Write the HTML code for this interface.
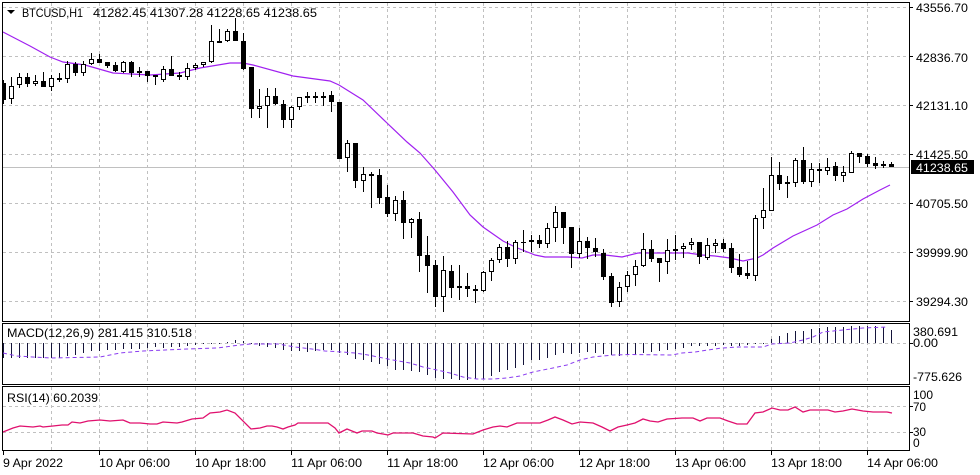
<!DOCTYPE html>
<html><head><meta charset="utf-8"><style>
html,body{margin:0;padding:0;background:#fff;}
svg{display:block;}
text{font-family:"Liberation Sans",Arial,sans-serif;font-size:12px;fill:#000;}
</style></head><body>
<svg width="980" height="475" viewBox="0 0 980 475" xmlns="http://www.w3.org/2000/svg">
<rect x="0" y="0" width="980" height="475" fill="#fff"/>
<!-- grid -->
<g stroke="#c0c0c0" stroke-width="1" stroke-dasharray="3 3" shape-rendering="crispEdges" fill="none">
<path d="M3 7.5H909M3 56.5H909M3 105.5H909M3 154.5H909M3 203.5H909M3 252.5H909M3 301.5H909"/>
<path d="M3 343.5H909M3 406.5H909M3 432.5H909"/>
<path d="M51.5 3V321M99.5 3V321M147.5 3V321M195.5 3V321M243.5 3V321M291.5 3V321M339.5 3V321M387.5 3V321M435.5 3V321M483.5 3V321M531.5 3V321M579.5 3V321M627.5 3V321M675.5 3V321M723.5 3V321M771.5 3V321M819.5 3V321M867.5 3V321"/>
<path d="M51.5 324V384M99.5 324V384M147.5 324V384M195.5 324V384M243.5 324V384M291.5 324V384M339.5 324V384M387.5 324V384M435.5 324V384M483.5 324V384M531.5 324V384M579.5 324V384M627.5 324V384M675.5 324V384M723.5 324V384M771.5 324V384M819.5 324V384M867.5 324V384"/>
<path d="M51.5 387V450M99.5 387V450M147.5 387V450M195.5 387V450M243.5 387V450M291.5 387V450M339.5 387V450M387.5 387V450M435.5 387V450M483.5 387V450M531.5 387V450M579.5 387V450M627.5 387V450M675.5 387V450M723.5 387V450M771.5 387V450M819.5 387V450M867.5 387V450"/>
</g>
<!-- current price line -->
<path d="M3 167.5H909" stroke="#c0c0c0" stroke-width="1" shape-rendering="crispEdges"/>
<!-- MA -->
<polyline fill="none" stroke="#a020f0" stroke-width="1.2" points="3,32 30,46 50,57 63,62 85,65 113,73 150,75 180,73 200,68 230,63 243,63 253,65 293,76 330,81 339,85 363,100 387,123 407,142 420,153 435,170 453,192 470,215 483,227 493,234 503,241 515,247 535,255 545,257 568,257 582,258 593,255 605,255 622,257 638,253 665,253 688,253 702,255 715,256 730,258 743,261 757,258 763,255 773,248 793,236 817,225 833,215 847,209 863,199 880,190 890,185"/>
<!-- wicks -->
<path stroke="#000" stroke-width="1" fill="none" shape-rendering="crispEdges" d="M3.5 80V104M11.5 77V104M19.5 73V88M27.5 73V87M35.5 75V86M43.5 72V87M51.5 75V91M59.5 73V82M67.5 61V83M75.5 62V76M83.5 61V76M91.5 53V65M99.5 54V63M107.5 62V68M115.5 62V72M123.5 61V73M131.5 61V77M139.5 67V77M147.5 71V82M155.5 75V85M163.5 66V82M171.5 56V76M179.5 72V80M187.5 63V80M195.5 63V70M203.5 62V67M211.5 25V63M219.5 29V43M227.5 29V42M235.5 18V41M243.5 33V70M251.5 67V118M259.5 89V118M267.5 88V128M275.5 88V105M283.5 100V128M291.5 106V128M299.5 97V110M307.5 92V103M315.5 92V103M323.5 92V106M331.5 91V112M339.5 102V159M347.5 140V172M355.5 143V188M363.5 167V192M371.5 172V208M379.5 169V204M387.5 185V217M395.5 196V221M403.5 191V239M411.5 218V238M419.5 212V272M427.5 236V293M435.5 260V307M443.5 256V312M451.5 265V298M459.5 265V300M467.5 273V297M475.5 285V303M483.5 271V292M491.5 258V281M499.5 244V263M507.5 241V267M515.5 240V264M523.5 230V252M531.5 235V252M539.5 235V248M547.5 223V248M555.5 206V242M563.5 212V244M571.5 227V268M579.5 228V258M587.5 237V259M595.5 238V257M603.5 249V280M611.5 273V307M619.5 282V307M627.5 271V292M635.5 260V286M643.5 233V267M651.5 240V262M659.5 258V282M667.5 239V274M675.5 235V260M683.5 243V258M691.5 238V250M699.5 242V264M707.5 238V260M715.5 239V253M723.5 239V252M731.5 243V273M739.5 254V277M747.5 261V279M755.5 215V281M763.5 188V229M771.5 157V211M779.5 162V190M787.5 176V198M795.5 158V187M803.5 147V184M811.5 163V187M819.5 163V183M827.5 158V175M835.5 162V181M843.5 166V182M851.5 151V173M859.5 153V163M867.5 154V167M875.5 157V169M883.5 161V168M891.5 162V167"/>
<!-- black bodies -->
<path fill="#000" shape-rendering="crispEdges" d="M2 83h4v17h-4zM25 77h5v7h-5zM41 81h5v6h-5zM57 78h5v2h-5zM73 64h5v9h-5zM97 59h5v4h-5zM105 62h5v4h-5zM113 65h5v6h-5zM129 62h5v11h-5zM145 71h5v5h-5zM153 75h5v2h-5zM169 69h5v7h-5zM177 75h5v2h-5zM233 31h5v10h-5zM241 41h5v28h-5zM249 67h5v42h-5zM273 96h5v8h-5zM281 104h5v16h-5zM313 96h5v2h-5zM329 95h5v7h-5zM337 102h5v57h-5zM353 143h5v38h-5zM369 174h5v2h-5zM377 175h5v23h-5zM385 197h5v17h-5zM401 200h5v23h-5zM417 219h5v37h-5zM425 255h5v11h-5zM433 265h5v32h-5zM449 271h5v17h-5zM457 286h5v2h-5zM465 286h5v3h-5zM473 289h5v2h-5zM505 247h5v12h-5zM521 242h5v1h-5zM537 240h5v4h-5zM561 212h5v16h-5zM569 227h5v27h-5zM585 241h5v7h-5zM593 248h5v4h-5zM601 253h5v24h-5zM609 276h5v27h-5zM649 249h5v10h-5zM657 258h5v5h-5zM673 249h5v2h-5zM697 242h5v15h-5zM721 243h5v6h-5zM729 248h5v20h-5zM737 267h5v8h-5zM745 273h5v3h-5zM777 175h5v9h-5zM801 160h5v22h-5zM817 169h5v2h-5zM833 166h5v10h-5zM857 153h5v4h-5zM865 156h5v8h-5zM873 163h5v3h-5zM881 164h5v2h-5zM889 164h5v3h-5z"/>
<!-- white bodies -->
<path fill="#fff" stroke="#000" stroke-width="1" shape-rendering="crispEdges" d="M9.5 86.5h4v12h-4zM17.5 77.5h4v7h-4zM33.5 81.5h4v2h-4zM49.5 78.5h4v8h-4zM65.5 64.5h4v14h-4zM81.5 64.5h4v8h-4zM89.5 59.5h4v4h-4zM121.5 62.5h4v9h-4zM137.5 71.5h4v1h-4zM161.5 69.5h4v10h-4zM185.5 68.5h4v8h-4zM193.5 65.5h4v2h-4zM201.5 62.5h4v2h-4zM209.5 41.5h4v20h-4zM217.5 41.5h4v1h-4zM225.5 31.5h4v9h-4zM257.5 106.5h4v2h-4zM265.5 96.5h4v9h-4zM289.5 107.5h4v12h-4zM297.5 97.5h4v9h-4zM305.5 96.5h4v1h-4zM321.5 96.5h4v1h-4zM345.5 143.5h4v14h-4zM361.5 174.5h4v6h-4zM393.5 200.5h4v13h-4zM409.5 219.5h4v3h-4zM441.5 270.5h4v26h-4zM481.5 272.5h4v18h-4zM489.5 260.5h4v11h-4zM497.5 247.5h4v12h-4zM513.5 242.5h4v16h-4zM529.5 240.5h4v1h-4zM545.5 228.5h4v15h-4zM553.5 212.5h4v15h-4zM577.5 241.5h4v12h-4zM617.5 287.5h4v14h-4zM625.5 275.5h4v11h-4zM633.5 266.5h4v8h-4zM641.5 249.5h4v16h-4zM665.5 250.5h4v11h-4zM681.5 246.5h4v2h-4zM689.5 242.5h4v2h-4zM705.5 245.5h4v12h-4zM713.5 243.5h4v2h-4zM753.5 218.5h4v57h-4zM761.5 210.5h4v7h-4zM769.5 175.5h4v35h-4zM785.5 182.5h4v1h-4zM793.5 160.5h4v22h-4zM809.5 169.5h4v12h-4zM825.5 167.5h4v3h-4zM841.5 172.5h4v3h-4zM849.5 153.5h4v19h-4z"/>
<!-- MACD histogram -->
<path stroke="#14143a" stroke-width="1" fill="none" shape-rendering="crispEdges" d="M3.5 343V358M11.5 343V358M19.5 343V358M27.5 343V358M35.5 343V358M43.5 343V358M51.5 343V358M59.5 343V358M67.5 343V356M75.5 343V355M83.5 343V353M91.5 343V351M99.5 343V351M107.5 343V350M115.5 343V350M123.5 343V349M131.5 343V349M139.5 343V349M147.5 343V348M155.5 343V347M163.5 343V348M171.5 343V347M179.5 343V347M187.5 343V346M195.5 343V345M203.5 343V344M211.5 343V344M219.5 343V344M227.5 343V342M235.5 343V340M243.5 343V341M251.5 343V344M259.5 343V346M267.5 343V347M275.5 343V348M283.5 343V350M291.5 343V351M299.5 343V351M307.5 343V352M315.5 343V351M323.5 343V350M331.5 343V350M339.5 343V353M347.5 343V355M355.5 343V359M363.5 343V360M371.5 343V362M379.5 343V364M387.5 343V366M395.5 343V370M403.5 343V370M411.5 343V371M419.5 343V372M427.5 343V375M435.5 343V378M443.5 343V379M451.5 343V379M459.5 343V380M467.5 343V380M475.5 343V379M483.5 343V379M491.5 343V376M499.5 343V372M507.5 343V370M515.5 343V368M523.5 343V365M531.5 343V360M539.5 343V360M547.5 343V358M555.5 343V355M563.5 343V353M571.5 343V354M579.5 343V353M587.5 343V352M595.5 343V353M603.5 343V354M611.5 343V355M619.5 343V356M627.5 343V355M635.5 343V355M643.5 343V353M651.5 343V352M659.5 343V351M667.5 343V350M675.5 343V349M683.5 343V348M691.5 343V346M699.5 343V346M707.5 343V346M715.5 343V346M723.5 343V345M731.5 343V346M739.5 343V346M747.5 343V345M755.5 343V344M763.5 343V344M771.5 343V339M779.5 343V336M787.5 343V333M795.5 343V331M803.5 343V331M811.5 343V329M819.5 343V328M827.5 343V327M835.5 343V327M843.5 343V327M851.5 343V326M859.5 343V326M867.5 343V326M875.5 343V326M883.5 343V327M891.5 343V330"/>
<!-- MACD signal -->
<polyline fill="none" stroke="#8a3cf0" stroke-width="1" stroke-dasharray="4 3" points="3,353 17,356 50,358 100,357 120,353 143,351 187,349 217,348 240,345 250,344 278,344 295,347 312,349 325,351 342,352 355,353 368,355 378,357 388,359 393,360 410,363 423,367 437,370 450,373 463,377 477,379 493,379 507,378 520,376 533,372 553,368 567,365 580,360 593,357 613,355 630,354.5 672,355 682,353 695,352 708,350 722,348 738,347 763,347 772,344 790,343 803,340 813,337 823,332 843,330 863,328 887,327"/>
<!-- RSI -->
<polyline fill="none" stroke="#e0106e" stroke-width="1.3" points="3,432 13,428 20,426 33,427 40,426 43,427 53,426 62,425 68,425 72,422 80,423 88,421 100,420 110,421 123,420 130,423 140,423 150,424 157,424 163,422 177,423 182,422 192,419 203,418 210,413 220,412 227,410 235,413 251,429 260,428 267,426 272,426 277,427 283,429 288,427 295,425 298,423 328,423 335,428 339,433 347,429 352,431 357,433 362,431 372,431 377,433 383,434 388,435 393,433 400,433 413,433 423,436 433,437 435,438 443,433 473,434 483,430 493,427 500,426 507,427 517,423 530,423 540,423 548,420 555,417 563,420 572,424 580,422 593,423 602,427 610,431 618,427 627,425 635,423 643,419 650,421 658,422 667,419 682,418 693,418 700,421 707,418 720,418 728,421 737,424 747,424 755,413 763,412 772,408 780,410 788,410 795,407 803,412 810,410 828,410 835,412 843,411 852,409 863,411 873,412 887,412 892,413"/>
<!-- frames -->
<g fill="none" stroke="#000" stroke-width="1" shape-rendering="crispEdges">
<rect x="2.5" y="2.5" width="907" height="319"/>
<rect x="2.5" y="323.5" width="907" height="61"/>
<rect x="2.5" y="386.5" width="907" height="64"/>
<path d="M909 7.5h4M909 56.5h4M909 105.5h4M909 154.5h4M909 203.5h4M909 252.5h4M909 301.5h4M909 343.5h4M909 406.5h4M909 432.5h4"/>
<path d="M3.5 451v4M99.5 451v4M195.5 451v4M291.5 451v4M387.5 451v4M483.5 451v4M579.5 451v4M675.5 451v4M771.5 451v4M867.5 451v4"/>
</g>
<!-- header -->
<polygon points="7,10 15,10 11,14" fill="#000"/>
<text x="22" y="17" font-size="12.5" textLength="61" lengthAdjust="spacingAndGlyphs">BTCUSD,H1</text>
<text x="93" y="17" font-size="12.5" textLength="224" lengthAdjust="spacingAndGlyphs">41282.45 41307.28 41228.65 41238.65</text>
<!-- price axis -->
<g font-size="12">
<text x="916" y="12" textLength="52" lengthAdjust="spacingAndGlyphs">43556.70</text>
<text x="916" y="62" textLength="52" lengthAdjust="spacingAndGlyphs">42836.70</text>
<text x="916" y="110" textLength="52" lengthAdjust="spacingAndGlyphs">42131.10</text>
<text x="916" y="159" textLength="52" lengthAdjust="spacingAndGlyphs">41425.50</text>
<text x="916" y="208" textLength="52" lengthAdjust="spacingAndGlyphs">40705.50</text>
<text x="916" y="257" textLength="52" lengthAdjust="spacingAndGlyphs">39999.90</text>
<text x="916" y="306" textLength="52" lengthAdjust="spacingAndGlyphs">39294.30</text>
</g>
<rect x="911" y="160" width="63" height="14" fill="#000"/>
<text x="916" y="172" font-size="12" fill="#fff" style="fill:#fff" textLength="52" lengthAdjust="spacingAndGlyphs">41238.65</text>
<!-- MACD labels -->
<text x="7" y="337" font-size="12" textLength="185" lengthAdjust="spacingAndGlyphs">MACD(12,26,9) 281.415 310.518</text>
<text x="913" y="336" font-size="12" textLength="45" lengthAdjust="spacingAndGlyphs">380.691</text>
<text x="913" y="347" font-size="12" textLength="25" lengthAdjust="spacingAndGlyphs">0.00</text>
<text x="913" y="381" font-size="12" textLength="49" lengthAdjust="spacingAndGlyphs">-775.626</text>
<!-- RSI labels -->
<text x="7" y="402" font-size="12" textLength="91" lengthAdjust="spacingAndGlyphs">RSI(14) 60.2039</text>
<text x="913" y="399" font-size="12" textLength="20" lengthAdjust="spacingAndGlyphs">100</text>
<text x="913" y="411" font-size="12" textLength="13" lengthAdjust="spacingAndGlyphs">70</text>
<text x="913" y="436" font-size="12" textLength="13" lengthAdjust="spacingAndGlyphs">30</text>
<text x="913" y="447" font-size="12">0</text>
<!-- time axis -->
<g font-size="12.5">
<text x="3" y="467" textLength="60" lengthAdjust="spacingAndGlyphs">9 Apr 2022</text>
<text x="99" y="467" textLength="71" lengthAdjust="spacingAndGlyphs">10 Apr 06:00</text>
<text x="195" y="467" textLength="71" lengthAdjust="spacingAndGlyphs">10 Apr 18:00</text>
<text x="291" y="467" textLength="71" lengthAdjust="spacingAndGlyphs">11 Apr 06:00</text>
<text x="387" y="467" textLength="71" lengthAdjust="spacingAndGlyphs">11 Apr 18:00</text>
<text x="483" y="467" textLength="71" lengthAdjust="spacingAndGlyphs">12 Apr 06:00</text>
<text x="579" y="467" textLength="71" lengthAdjust="spacingAndGlyphs">12 Apr 18:00</text>
<text x="675" y="467" textLength="71" lengthAdjust="spacingAndGlyphs">13 Apr 06:00</text>
<text x="771" y="467" textLength="71" lengthAdjust="spacingAndGlyphs">13 Apr 18:00</text>
<text x="867" y="467" textLength="71" lengthAdjust="spacingAndGlyphs">14 Apr 06:00</text>
</g>
</svg>
</body></html>
